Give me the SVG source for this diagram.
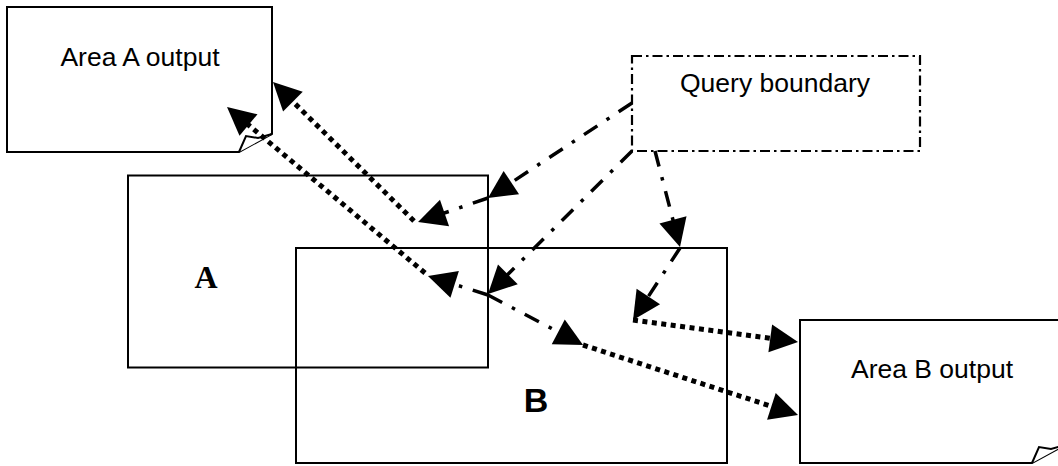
<svg xmlns="http://www.w3.org/2000/svg" width="1058" height="466" viewBox="0 0 1058 466">
<style>
.box{fill:none;stroke:#000;stroke-width:2}
.doc{fill:#fff;stroke:#000;stroke-width:2;stroke-linejoin:miter}
.qb{fill:none;stroke:#000;stroke-width:2.2;stroke-dasharray:10 4 2.5 4}
.lbl{font-family:"Liberation Sans",Arial,sans-serif;font-size:26.5px;fill:#000;text-anchor:middle}
.big{font-family:"Liberation Sans",Arial,sans-serif;font-size:34px;font-weight:bold;fill:#000;text-anchor:middle}
.serif{font-family:"Liberation Serif","Times New Roman",serif;font-size:32px;font-weight:bold;fill:#000;text-anchor:middle}
.dd{fill:none;stroke:#000;stroke-width:3.5;stroke-dasharray:16 11 3.5 11;marker-end:url(#ah)}
.dot{fill:none;stroke:#000;stroke-width:5;stroke-dasharray:5 4.5;marker-end:url(#ah)}
</style>
<defs>
<marker id="ah" markerUnits="userSpaceOnUse" markerWidth="28" markerHeight="28" refX="18" refY="14" orient="auto" overflow="visible">
<path d="M0,0 L28,14 L0,28 Z" fill="#000"/>
</marker>
</defs>
<rect width="1058" height="466" fill="#fff"/>
<g id="areaA">
<rect class="box" x="128" y="175.5" width="360" height="192"/>
<text class="serif" x="206" y="288">A</text>
</g>
<g id="areaB">
<rect class="box" x="296" y="248" width="431" height="215"/>
<text class="big" x="536" y="412">B</text>
</g>
<g id="outA">
<path class="doc" d="M7,7 H272 V134 L239,152 H7 Z"/>
<path class="doc" d="M239,152 L246,136 L258,138 L272,134"/>
<text class="lbl" x="140" y="66">Area A output</text>
</g>
<g id="outB">
<path class="doc" d="M800,320 H1065 V445 L1032,463 H800 Z"/>
<path class="doc" d="M1032,463 L1039,447 L1051,449 L1065,445"/>
<text class="lbl" x="932" y="378">Area B output</text>
</g>
<g id="query">
<rect class="qb" x="632" y="56" width="288" height="95"/>
<text class="lbl" x="775" y="92">Query boundary</text>
</g>
<g id="connectors">
<path class="dd" d="M632,103 L496.3,192.5"/>
<path class="dd" d="M488,198 L427.5,218.8"/>
<path class="dd" d="M632,151 L495.1,287"/>
<path class="dd" d="M488,295 L437.5,279"/>
<path class="dd" d="M488,295 L574.2,340.3"/>
<path class="dd" d="M655,151 L677.5,237.3"/>
<path class="dd" d="M680,248 L638.5,311.6"/>
<path class="dot" d="M414,221 L280.1,89"/>
<path class="dot" d="M425,273 L234.7,113.4"/>
<path class="dot" d="M633,320 L788.1,340.7"/>
<path class="dot" d="M583,345 L788.5,411.9"/>
</g>
</svg>
